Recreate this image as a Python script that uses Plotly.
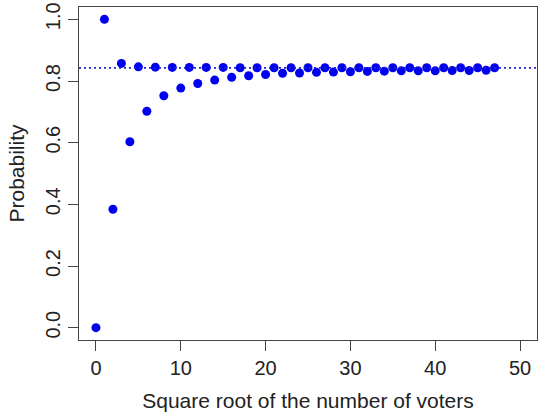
import plotly.graph_objects as go

# Square root of number of voters
x_vals = list(range(0, 48))
# probability values
odd_probs = [1.0, 0.857, 0.846, 0.845, 0.844, 0.844, 0.844, 0.844, 0.843, 0.843,
             0.843, 0.843, 0.843, 0.843, 0.843, 0.843, 0.843, 0.843, 0.843, 0.843,
             0.843, 0.843, 0.843, 0.843]
even_probs = [0.0, 0.384, 0.603, 0.702, 0.752, 0.777, 0.792, 0.803, 0.812, 0.817,
              0.821, 0.825, 0.826, 0.828, 0.829, 0.830, 0.831, 0.832, 0.833, 0.833,
              0.833, 0.834, 0.834, 0.835]
limit_value = 0.8427

y_vals = []
for i in x_vals:
    if i % 2 == 0:
        y_vals.append(even_probs[i // 2])
    else:
        y_vals.append(odd_probs[i // 2])

x_ticks = [0, 10, 20, 30, 40, 50]
y_ticks = [0.0, 0.2, 0.4, 0.6, 0.8, 1.0]
y_tick_text = ["0.0", "0.2", "0.4", "0.6", "0.8", "1.0"]

FONT = "Liberation Sans, Arial, sans-serif"

fig = go.Figure()
fig.add_trace(go.Scatter(
    x=x_vals, y=y_vals, mode="markers",
    marker=dict(color="#0000f0", size=9, line=dict(width=0)),
    showlegend=False,
))

fig.add_shape(type="line", xref="paper", yref="y", x0=0, x1=1,
              y0=limit_value, y1=limit_value,
              line=dict(color="#2222cc", width=1.6, dash="2px,3px"))

axis_common = dict(
    showline=True, linecolor="#444444", linewidth=1.3, mirror=True,
    ticks="outside", ticklen=10, tickwidth=1.3, tickcolor="#444444",
    showgrid=False, zeroline=False, automargin=False,
    tickfont=dict(family=FONT, size=20, color="#222222"),
)

fig.update_xaxes(range=[-2, 52], tickvals=x_ticks,
                 title=dict(text="Square root of the number of voters",
                            font=dict(family=FONT, size=21, color="#222222"),
                            standoff=15),
                 **axis_common)
fig.update_yaxes(range=[-0.04, 1.04], tickvals=y_ticks, ticktext=y_tick_text,
                 tickangle=-90,
                 title=dict(text="Probability",
                            font=dict(family=FONT, size=21, color="#222222"),
                            standoff=11),
                 **axis_common)

fig.update_layout(
    width=540, height=413,
    margin=dict(l=79, r=3, t=7, b=73),
    plot_bgcolor="white", paper_bgcolor="white",
)

fig.write_html("out.html", config={"displayModeBar": False},
               post_script="document.body.style.margin='0';document.body.style.overflow='hidden';")
